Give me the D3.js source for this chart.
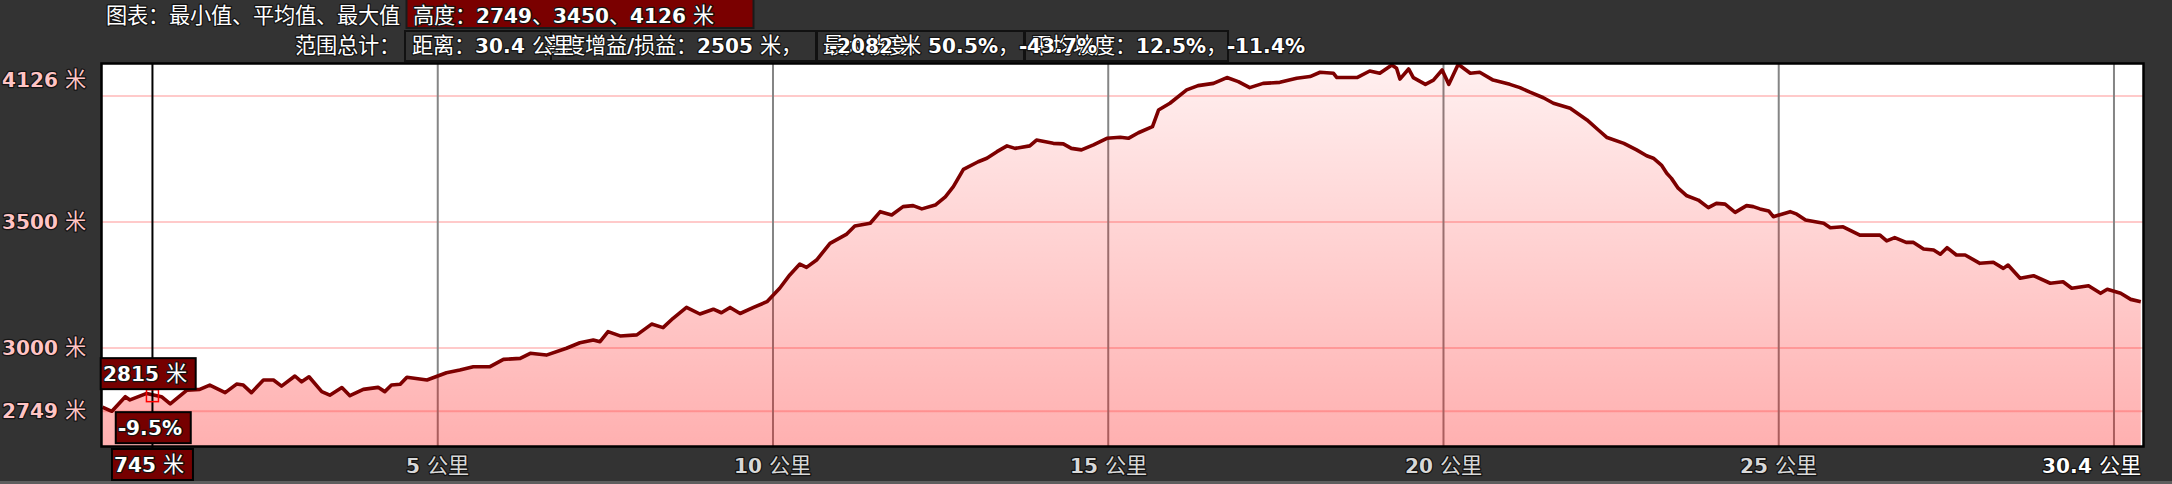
<!DOCTYPE html>
<html><head><meta charset="utf-8">
<script src="https://cdn.jsdelivr.net/npm/d3@7/dist/d3.min.js"></script>
<style>
@font-face{font-family:"LatinB";src:local("DejaVu Sans Bold"),local("DejaVuSans-Bold");unicode-range:U+0000-02FF,U+2000-206F;}
@font-face{font-family:"CJKR";src:local("Noto Sans CJK SC Regular"),local("NotoSansCJKsc-Regular"),local("Noto Sans CJK SC");size-adjust:106%;}
html,body{margin:0;padding:0;background:#333333;overflow:hidden;}
svg{display:block;}
text{font-family:"LatinB","CJKR","DejaVu Sans","Noto Sans CJK SC",sans-serif;font-size:20px;paint-order:stroke;stroke:#141414;stroke-width:2.5px;stroke-linejoin:round;dominant-baseline:central;}
</style></head><body>
<svg id="chart" width="2172" height="484"></svg>
<script>
// ---------- data ----------
const distanceKm = [0.00,0.14,0.34,0.41,0.66,0.745,0.88,1.01,1.26,1.45,1.60,1.83,2.00,2.10,2.22,2.40,2.55,2.67,2.87,2.97,3.08,3.27,3.39,3.57,3.69,3.89,4.11,4.21,4.31,4.44,4.54,4.84,5.13,5.33,5.53,5.78,5.98,6.23,6.38,6.62,6.92,7.12,7.32,7.42,7.54,7.72,7.97,8.19,8.36,8.51,8.71,8.91,9.11,9.23,9.36,9.51,9.71,9.91,10.10,10.25,10.40,10.50,10.65,10.85,11.10,11.22,11.45,11.60,11.77,11.94,12.09,12.22,12.42,12.57,12.69,12.84,13.06,13.19,13.34,13.49,13.61,13.83,13.93,14.18,14.33,14.45,14.60,14.78,14.98,15.18,15.30,15.45,15.66,15.75,15.92,16.17,16.34,16.57,16.77,16.94,17.11,17.31,17.56,17.81,18.01,18.16,18.36,18.41,18.71,18.90,19.05,19.23,19.30,19.35,19.48,19.55,19.73,19.85,19.98,20.08,20.22,20.40,20.54,20.74,20.99,21.14,21.29,21.49,21.64,21.89,22.14,22.31,22.44,22.69,22.88,23.03,23.13,23.25,23.33,23.40,23.50,23.63,23.80,23.95,24.07,24.20,24.35,24.52,24.62,24.72,24.85,24.92,25.17,25.27,25.40,25.67,25.77,25.96,26.21,26.51,26.61,26.73,26.90,27.01,27.16,27.31,27.41,27.51,27.65,27.78,28.00,28.20,28.35,28.42,28.60,28.80,29.05,29.24,29.37,29.62,29.80,29.90,30.10,30.25,30.40];
const elevationM = [2765,2749,2807,2794,2820,2815,2807,2778,2833,2836,2853,2823,2857,2853,2823,2873,2873,2849,2889,2866,2886,2827,2813,2843,2811,2836,2844,2827,2853,2856,2884,2873,2902,2913,2926,2926,2955,2959,2979,2972,2999,3021,3032,3025,3065,3048,3052,3095,3081,3118,3161,3135,3154,3140,3161,3137,3161,3184,3237,3290,3333,3320,3349,3415,3452,3484,3495,3541,3528,3561,3565,3552,3567,3600,3640,3709,3739,3753,3779,3802,3792,3802,3825,3812,3810,3792,3786,3806,3832,3836,3832,3854,3878,3944,3971,4024,4041,4050,4073,4057,4033,4050,4054,4070,4077,4094,4090,4073,4073,4099,4090,4123,4110,4067,4107,4073,4046,4063,4103,4046,4126,4090,4094,4063,4046,4033,4015,3993,3971,3951,3905,3865,3835,3812,3786,3763,3753,3726,3693,3673,3634,3604,3587,3557,3574,3571,3538,3565,3561,3552,3544,3521,3541,3531,3508,3495,3477,3481,3448,3448,3425,3438,3419,3419,3393,3389,3372,3398,3369,3369,3336,3340,3316,3329,3277,3287,3257,3263,3237,3247,3217,3233,3217,3193,3184];

const xGridKm = [5,10,15,20,25,30];
const xLabelKm = [5,10,15,20,25,30.4];
const xLabelText = ["5 公里","10 公里","15 公里","20 公里","25 公里","30.4 公里"];
const yGridM = [2749,3000,3500,4000];
const yLabelM = [2749,3000,3500,4126];
const yLabelText = ["2749 米","3000 米","3500 米","4126 米"];

const totalKm = 30.4, minElev = 2749, maxElev = 4126;
const cursorKm = 0.745, cursorElev = 2815;
const cursorElevText = "2815 米", cursorGradeText = "-9.5%", cursorDistText = "745 米";

const headerTitle = "图表：最小值、平均值、最大值";
const headerValues = "高度：2749、3450、4126 米";
const summaryLabel = "范围总计：";
const summaryDistance = ["距离：30.4 公里"];
const summaryGain = ["高度增益/损益：2505 米，","-2082 米"];
const summaryMaxGrade = ["最大坡度：50.5%，-43.7%"];
const summaryAvgGrade = ["平均坡度：12.5%，-11.4%"];

function draw(){
const svg = d3.select("#chart");
svg.selectAll("*").remove();
const P = {left:102, right:2143, top:64, bottom:446};
const x = d3.scaleLinear().domain([0,totalKm]).range([102.5,2140.8]);
const y = d3.scaleLinear().domain([minElev-0.1*(maxElev-minElev), maxElev]).range([446,64.2]);

svg.append("rect").attr("x",0).attr("y",0).attr("width",2172).attr("height",484).attr("fill","#333333");
svg.append("rect").attr("x",0).attr("y",481).attr("width",2172).attr("height",3).attr("fill","#5e5e5e");

const defs = svg.append("defs");
const g = defs.append("linearGradient").attr("id","fillGrad").attr("gradientUnits","userSpaceOnUse")
  .attr("x1",0).attr("y1",P.top).attr("x2",0).attr("y2",P.bottom);
g.append("stop").attr("offset",0).attr("stop-color","rgb(255,0,0)").attr("stop-opacity",0.06);
g.append("stop").attr("offset",1).attr("stop-color","rgb(255,0,0)").attr("stop-opacity",0.31);
defs.append("clipPath").attr("id","plotClip").append("rect")
  .attr("x",P.left).attr("y",P.top).attr("width",P.right-P.left).attr("height",P.bottom-P.top);

svg.append("rect").attr("x",P.left).attr("y",P.top).attr("width",P.right-P.left).attr("height",P.bottom-P.top).attr("fill","#ffffff");

const plot = svg.append("g").attr("clip-path","url(#plotClip)");
plot.selectAll("line.hg").data(yGridM).join("line").attr("class","hg")
  .attr("x1",P.left).attr("x2",P.right).attr("y1",d=>y(d)).attr("y2",d=>y(d))
  .attr("stroke","#ffcaca").attr("stroke-width",2);
plot.selectAll("line.vg").data(xGridKm).join("line").attr("class","vg")
  .attr("x1",d=>x(d)).attr("x2",d=>x(d)).attr("y1",P.top).attr("y2",P.bottom)
  .attr("stroke","#858585").attr("stroke-width",2);

const pts = distanceKm.map((d,i)=>[d,elevationM[i]]);
plot.append("path").datum(pts)
  .attr("d",d3.area().x(d=>x(d[0])).y0(P.bottom).y1(d=>y(d[1])))
  .attr("fill","url(#fillGrad)");
plot.append("path").datum(pts)
  .attr("d",d3.line().x(d=>x(d[0])).y(d=>y(d[1])))
  .attr("fill","none").attr("stroke","#7d0000").attr("stroke-width",3.6).attr("stroke-linejoin","round");

svg.append("rect").attr("x",P.left-0.5).attr("y",P.top-0.5).attr("width",P.right-P.left+1).attr("height",P.bottom-P.top+1)
  .attr("fill","none").attr("stroke","#000").attr("stroke-width",2.5);

svg.selectAll("text.yl").data(yLabelM).join("text").attr("class","yl")
  .attr("x",2).attr("y",d=>Math.max(y(d),80)).attr("fill","#ffc4c4")
  .text((d,i)=>yLabelText[i]);

svg.selectAll("text.xl").data(xLabelKm).join("text").attr("class","xl")
  .attr("x",d=>d===totalKm?P.right-2:x(d)).attr("y",466)
  .attr("text-anchor",d=>d===totalKm?"end":"middle")
  .attr("fill",d=>d===totalKm?"#ffffff":"#d8d8d8")
  .text((d,i)=>xLabelText[i]);

const cx = x(cursorKm), cy = y(cursorElev);
svg.append("line").attr("x1",cx).attr("x2",cx).attr("y1",P.top).attr("y2",448).attr("stroke","#000").attr("stroke-width",2);
svg.append("rect").attr("x",cx-6).attr("y",cy-5).attr("width",12).attr("height",12)
  .attr("fill","none").attr("stroke","#ff0000").attr("stroke-width",1.5);

function tagBox(txt, left, top, anchorCenter){
  const gT = svg.append("g");
  const r = gT.append("rect");
  const t = gT.append("text").attr("fill","#ffffff").text(txt);
  const tw = t.node().getComputedTextLength();
  const w = tw + 11;
  const lx = anchorCenter ? left - w/2 : left;
  r.attr("x",lx).attr("y",top).attr("width",w).attr("height",31)
   .attr("fill","#760000").attr("stroke","#000").attr("stroke-width",2);
  t.attr("x",lx+2).attr("y",top+16);
}
tagBox(cursorElevText, P.left-1.3, cy-36.5, false);
tagBox(cursorGradeText, cx+0.8, cy+17.5, true);
tagBox(cursorDistText, cx, 449, true);

svg.append("text").attr("x",400).attr("y",16).attr("text-anchor","end").attr("fill","#ffffff").text(headerTitle);
svg.append("rect").attr("x",406.5).attr("y",-3).attr("width",347).attr("height",31)
  .attr("fill","#7a0000").attr("stroke","#1a1a1a").attr("stroke-width",2);
svg.append("text").attr("x",413).attr("y",16).attr("fill","#ffffff").text(headerValues);

svg.append("text").attr("x",400).attr("y",46).attr("text-anchor","end").attr("fill","#ffffff").text(summaryLabel);
const boxes = [[405,551],[551,816],[817,1024],[1025,1228]];
svg.selectAll("rect.sb").data(boxes).join("rect").attr("class","sb")
  .attr("x",d=>d[0]).attr("y",31).attr("width",d=>d[1]-d[0]).attr("height",30)
  .attr("fill","none").attr("stroke","#111").attr("stroke-width",2);

function multiText(parts, xs){
  const t = svg.append("text").attr("y",46).attr("fill","#ffffff");
  parts.forEach((p,i)=>t.append("tspan").attr("x",xs[i]).text(p));
}
multiText(summaryAvgGrade,[1031]);
multiText(summaryMaxGrade,[823]);
multiText(summaryGain,[543,829]);
multiText(summaryDistance,[412]);
}
draw();
if (document.fonts && document.fonts.ready) document.fonts.ready.then(draw);
</script>
</body></html>
